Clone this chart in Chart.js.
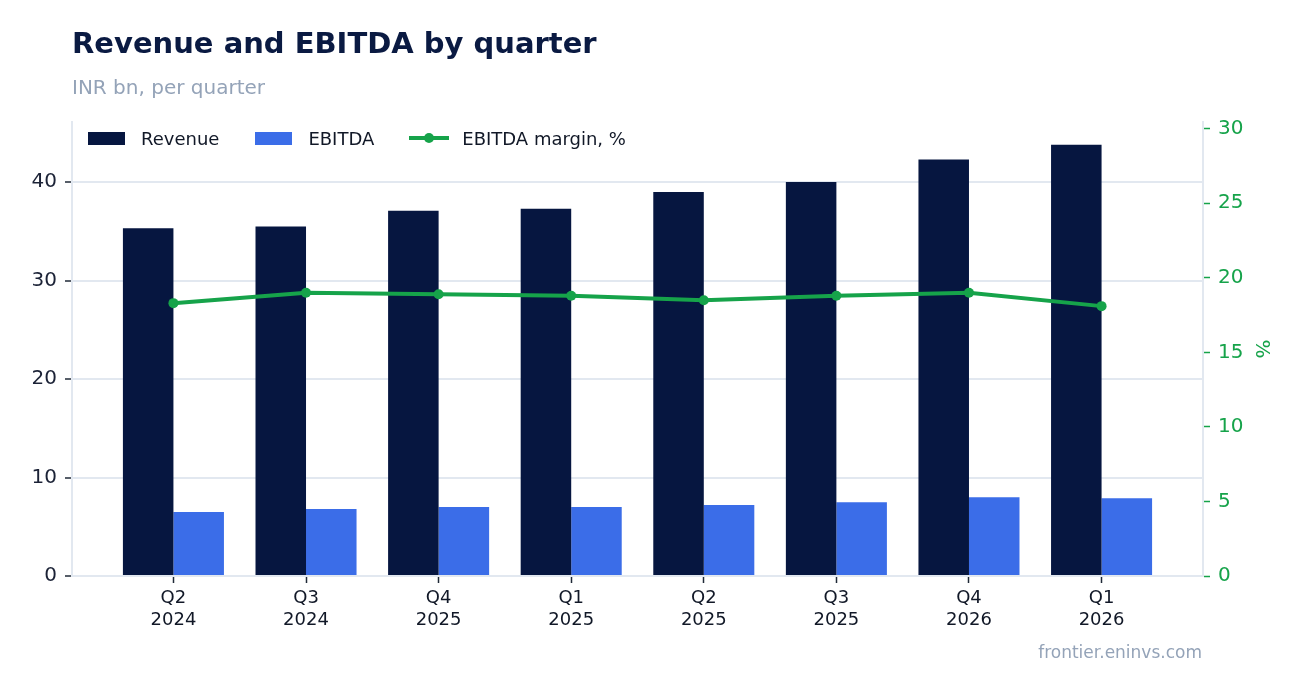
<!DOCTYPE html>
<html>
<head>
<meta charset="utf-8">
<script src="https://cdn.jsdelivr.net/npm/chart.js@4/dist/chart.umd.min.js"></script>
<style>
  html, body { margin: 0; padding: 0; background: #fff; }
  body { width: 1302px; height: 693px; position: relative; overflow: hidden; font-family: "DejaVu Sans", sans-serif; }
  #wrap { position: absolute; left: 0; top: 0; width: 1302px; height: 693px; }
  .title { position: absolute; left: 72px; top: 29px; font-size: 29px; line-height: 29px; font-weight: bold; color: #0a1a42; white-space: nowrap; }
  .subtitle { position: absolute; left: 72px; top: 77px; font-size: 20px; line-height: 20px; color: #94a3b8; white-space: nowrap; }
  .footer { position: absolute; right: 100px; top: 644px; font-size: 17px; line-height: 17px; color: #94a3b8; white-space: nowrap; }
  .legend { position: absolute; left: 88px; top: 127px; height: 22px; display: flex; align-items: center; font-size: 18px; color: #111827; white-space: nowrap; }
  .legend .item { display: flex; align-items: center; }
  .legend .box { width: 37px; height: 13px; margin-right: 16px; }
  .legend .line { position: relative; width: 40px; height: 4px; margin-right: 13px; background: #16a34a; }
  .legend .line::after { content: ""; position: absolute; left: 15px; top: -3px; width: 10px; height: 10px; border-radius: 50%; background: #16a34a; }
</style>
</head>
<body>
<div id="wrap"><canvas id="chart"></canvas></div>
<div class="title">Revenue and EBITDA by quarter</div>
<div class="subtitle">INR bn, per quarter</div>
<div class="legend">
  <div class="item" style="margin-right:36px"><span class="box" style="background:#061640"></span>Revenue</div>
  <div class="item" style="margin-right:35px"><span class="box" style="background:#3b6de8"></span>EBITDA</div>
  <div class="item"><span class="line"></span>EBITDA margin, %</div>
</div>
<div class="footer">frontier.eninvs.com</div>
<script>
// categories
const quarters = ['Q2', 'Q3', 'Q4', 'Q1', 'Q2', 'Q3', 'Q4', 'Q1'];
const years = ['2024', '2024', '2025', '2025', '2025', '2025', '2026', '2026'];

// series, INR bn / %
const revenue = [35.3, 35.5, 37.1, 37.3, 39.0, 40.0, 42.3, 43.8];
const ebitda = [6.5, 6.8, 7.0, 7.0, 7.2, 7.5, 8.0, 7.9];
const margin = [18.3, 19.0, 18.9, 18.8, 18.5, 18.8, 19.0, 18.1];

// tick labels
const leftTicks = [0, 10, 20, 30, 40];
const rightTicks = [0, 5, 10, 15, 20, 25, 30];

const NAVY = '#061640';
const BLUE = '#3b6de8';
const GREEN = '#16a34a';
const GRID = '#e2e8f0';
const FONT = 'DejaVu Sans';

const toPoints = arr => arr.map((v, i) => ({ x: i, y: v }));

new Chart(document.getElementById('chart'), {
    type: 'bar',
    data: {
        datasets: [
            {
                type: 'line',
                label: 'EBITDA margin, %',
                data: toPoints(margin),
                yAxisID: 'y1',
                borderColor: GREEN,
                backgroundColor: GREEN,
                borderWidth: 4,
                pointRadius: 5,
                pointBorderWidth: 0,
                pointBackgroundColor: GREEN,
                tension: 0,
                order: 0
            },
            {
                label: 'Revenue',
                data: toPoints(revenue),
                backgroundColor: NAVY,
                yAxisID: 'y',
                categoryPercentage: 0.762,
                barPercentage: 1.0,
                order: 1
            },
            {
                label: 'EBITDA',
                data: toPoints(ebitda),
                backgroundColor: BLUE,
                yAxisID: 'y',
                categoryPercentage: 0.762,
                barPercentage: 1.0,
                order: 1
            }
        ]
    },
    options: {
        responsive: true,
        maintainAspectRatio: false,
        animation: false,
        layout: { padding: { top: 122, left: 0, right: 25, bottom: 0 } },
        plugins: {
            legend: { display: false },
            tooltip: { enabled: false }
        },
        scales: {
            x: {
                type: 'linear',
                offset: false,
                min: -0.765,
                max: 7.765,
                afterBuildTicks: s => { s.ticks = quarters.map((_, i) => ({ value: i })); },
                afterFit: s => { s.height = 117; },
                grid: { offset: false, drawOnChartArea: false, drawTicks: true, tickLength: 7, tickColor: '#1f2937', tickWidth: 1.5 },
                border: { color: GRID, width: 2 },
                ticks: {
                    padding: 5,
                    color: '#111827',
                    font: { family: FONT, size: 18 },
                    callback: v => [quarters[v], years[v]],
                    maxRotation: 0,
                    autoSkip: false
                }
            },
            y: {
                position: 'left',
                min: 0,
                max: 46.1,
                afterBuildTicks: s => { s.ticks = leftTicks.map(v => ({ value: v })); },
                afterFit: s => { s.width = 72; },
                grid: { color: GRID, lineWidth: 2, tickLength: 7, tickColor: '#1f2937', tickWidth: 1.5 },
                border: { color: GRID, width: 2 },
                ticks: { padding: 8, color: '#1b2236', font: { family: FONT, size: 20 } }
            },
            y1: {
                position: 'right',
                min: 0,
                max: 30.45,
                afterBuildTicks: s => { s.ticks = rightTicks.map(v => ({ value: v })); },
                afterFit: s => { s.width = 74; },
                grid: { drawOnChartArea: false, tickLength: 7, tickColor: GREEN, tickWidth: 1.5 },
                border: { color: GRID, width: 2 },
                ticks: { padding: 8, color: GREEN, font: { family: FONT, size: 20 } },
                title: { display: true, text: '%', color: GREEN, font: { family: FONT, size: 20 } }
            }
        }
    }
});
</script>
</body>
</html>
